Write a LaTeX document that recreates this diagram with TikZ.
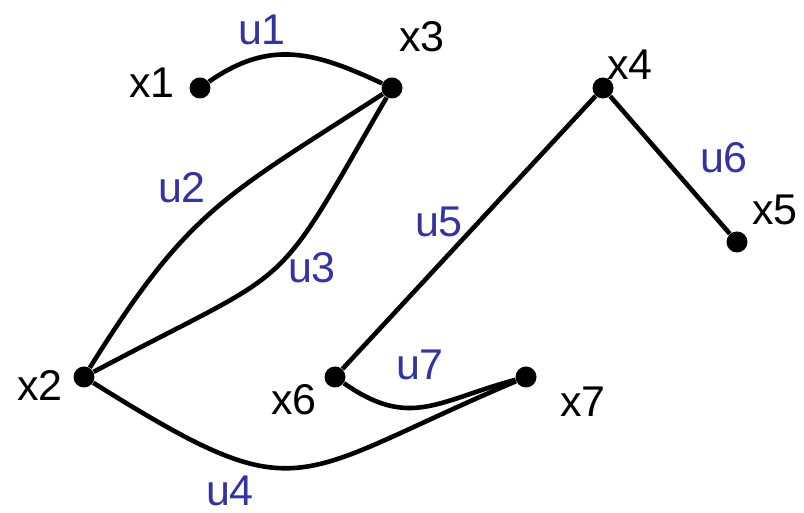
\documentclass[tikz,border=0pt]{standalone}
\usepackage{fontspec}
\setmainfont{Liberation Sans}
\usepackage{tikz}
\usetikzlibrary{calc}
\definecolor{edgeblue}{HTML}{3434A0}

\begin{document}
\begin{tikzpicture}[x=0.5pt,y=0.5pt,
    vertex/.style={circle,fill=black,inner sep=0pt,minimum size=10.5pt},
    vname/.style={font=\fontsize{21.5}{25}\selectfont},
    ename/.style={font=\fontsize{21.5}{25}\selectfont,text=edgeblue},
    edge/.style={line width=2.3pt}]
    \useasboundingbox (0,0) rectangle (804,513);
    % vertices
    \node[vertex] (x1) at (200,425) {};
    \node[vertex] (x2) at (84,136) {};
    \node[vertex] (x3) at (392,425) {};
    \node[vertex] (x4) at (603,425) {};
    \node[vertex] (x5) at (737,271) {};
    \node[vertex] (x6) at (335,136) {};
    \node[vertex] (x7) at (526,136) {};
    \node[vname] (n1) at (152,430) {x1};
    \node[vname] (n2) at (40,128) {x2};
    \node[vname] (n3) at (422,476) {x3};
    \node[vname] (n4) at (630,448) {x4};
    \node[vname] (n5) at (775,303) {x5};
    \node[vname] (n6) at (294,113) {x6};
    \node[vname] (n7) at (583,111) {x7};
    % edges
    \draw[edge] (x1) to[out=35,in=155,looseness=1.1] (x3);
    \draw[edge] (x2) to[out=58,in=213,looseness=1.2] (x3);
    \draw[edge] (x2) to[out=28,in=-120,looseness=1.5] (x3);
    \draw[edge] (x2) to[out=-32,in=203,looseness=1.5] (x7);
    \draw[edge] (x6) -- (x4);
    \draw[edge] (x4) -- (x5);
    \draw[edge] (x6) to[out=-35,in=195,looseness=1.2] (x7);
    \node[ename] (u1) at (262,483) {u1};
    \node[ename] (u2) at (182,325) {u2};
    \node[ename] (u3) at (312,245) {u3};
    \node[ename] (u4) at (230,22) {u4};
    \node[ename] (u5) at (439,291) {u5};
    \node[ename] (u6) at (724,355) {u6};
    \node[ename] (u7) at (420,148) {u7};
\end{tikzpicture}
\end{document}
